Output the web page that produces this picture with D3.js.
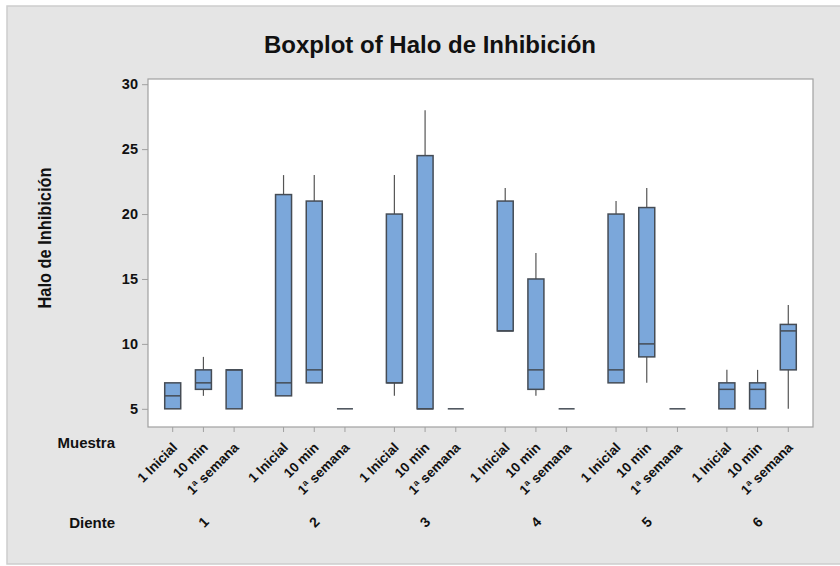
<!DOCTYPE html>
<html>
<head>
<meta charset="utf-8">
<script src="https://cdn.jsdelivr.net/npm/d3@7"></script>
<style>
  html, body { margin: 0; padding: 0; background: #ffffff; }
  svg { display: block; font-family: "Liberation Sans", Arial, sans-serif; }
</style>
</head>
<body>
<svg id="chart" width="840" height="566"></svg>
<script>
// ---- Data ----
const dientes = ["1", "2", "3", "4", "5", "6"];
const muestras = ["1 Inicial", "10 min", "1ª semana"];
const yTicks = [5, 10, 15, 20, 25, 30];
// 18 boxes, order: diente 1 (1 Inicial, 10 min, 1ª semana), diente 2 ...
const whiskerLow  = [5, 6, 5,   6, 7, 5,   6, 5, 5,   11, 6, 5,   7, 7, 5,   5, 5, 5];
const q1          = [5, 6.5, 5, 6, 7, 5,   7, 5, 5,   11, 6.5, 5, 7, 9, 5,   5, 5, 8];
const median      = [6, 7, 8,   7, 8, 5,   7, 5, 5,   11, 8, 5,   8, 10, 5,  6.5, 6.5, 11];
const q3          = [7, 8, 8,   21.5, 21, 5, 20, 24.5, 5, 21, 15, 5, 20, 20.5, 5, 7, 7, 11.5];
const whiskerHigh = [7, 9, 8,   23, 23, 5,  23, 28, 5,  22, 17, 5,  21, 22, 5,  8, 8, 13];

const boxes = [];
dientes.forEach((d, gi) => muestras.forEach((m, mi) => {
  const i = gi * muestras.length + mi;
  boxes.push({diente: d, muestra: m, lo: whiskerLow[i], q1: q1[i], med: median[i], q3: q3[i], hi: whiskerHigh[i]});
}));

// ---- Layout ----
const svg = d3.select("#chart");
const plot = {left: 148, right: 813, top: 79, bottom: 427};

svg.append("rect").attr("x", 7).attr("y", 6).attr("width", 840).attr("height", 558)
  .attr("fill", "#e5e5e5").attr("stroke", "#cdcdcd").attr("stroke-width", 1.5);

const x = d3.scaleBand().domain(dientes).range([plot.left, plot.right]).padding(0);
const xi = d3.scalePoint().domain(muestras).range([0, x.bandwidth()]).padding(0.805);
const y = d3.scaleLinear().domain([3.6, 30.4]).range([plot.bottom, plot.top]);
const cx = b => x(b.diente) + xi(b.muestra);

svg.append("rect").attr("x", plot.left).attr("y", plot.top)
  .attr("width", plot.right - plot.left).attr("height", plot.bottom - plot.top)
  .attr("fill", "#ffffff").attr("stroke", "#a0a0a0").attr("stroke-width", 1.2);

// Title
svg.append("text").attr("x", 430).attr("y", 53).attr("text-anchor", "middle")
  .attr("font-size", 23.5).attr("font-weight", "bold").attr("fill", "#111")
  .attr("textLength", 332).attr("lengthAdjust", "spacingAndGlyphs")
  .text("Boxplot of Halo de Inhibición");

// Y axis
const yAxis = svg.append("g").attr("transform", `translate(${plot.left},0)`)
  .call(d3.axisLeft(y).tickValues(yTicks).tickSize(6).tickPadding(4));
yAxis.select(".domain").remove();
yAxis.selectAll(".tick line").attr("stroke", "#a0a0a0");
yAxis.selectAll(".tick text").attr("font-size", 14.5).attr("font-weight", "bold")
  .attr("fill", "#111").attr("font-family", "Liberation Sans, Arial, sans-serif");

svg.append("text").attr("transform", "translate(51,238) rotate(-90)")
  .attr("text-anchor", "middle").attr("font-size", 17.5).attr("font-weight", "bold")
  .attr("fill", "#111").attr("textLength", 141).attr("lengthAdjust", "spacingAndGlyphs")
  .text("Halo de Inhibición");

// X ticks
const xt = svg.append("g");
xt.selectAll("line").data(boxes).join("line")
  .attr("x1", cx).attr("x2", cx).attr("y1", plot.bottom).attr("y2", plot.bottom + 5)
  .attr("stroke", "#a0a0a0");
xt.selectAll("text").data(boxes).join("text")
  .attr("transform", b => `translate(${cx(b) + 2},445) rotate(-45)`)
  .attr("text-anchor", "end").attr("dy", "0.35em")
  .attr("font-size", 13.5).attr("font-weight", "bold").attr("fill", "#111")
  .text(b => b.muestra);

svg.selectAll(".dl").data(dientes).join("text").attr("class", "dl")
  .attr("transform", d => `translate(${x(d) + x.bandwidth() / 2},522) rotate(-45)`)
  .attr("text-anchor", "middle").attr("dy", "0.35em")
  .attr("font-size", 14).attr("font-weight", "bold").attr("fill", "#111")
  .text(d => d);

svg.append("text").attr("x", 115).attr("y", 448).attr("text-anchor", "end")
  .attr("font-size", 15).attr("font-weight", "bold").attr("fill", "#111").text("Muestra");
svg.append("text").attr("x", 115).attr("y", 528).attr("text-anchor", "end")
  .attr("font-size", 15).attr("font-weight", "bold").attr("fill", "#111").text("Diente");

// Boxes
const bw = 16;
const g = svg.append("g");
const stroke = "#454c55";
g.selectAll(".wh").data(boxes).join("line").attr("class", "wh")
  .attr("x1", cx).attr("x2", cx).attr("y1", b => y(b.q3)).attr("y2", b => y(b.hi))
  .attr("stroke", "#555").attr("stroke-width", 1.2);
g.selectAll(".wl").data(boxes).join("line").attr("class", "wl")
  .attr("x1", cx).attr("x2", cx).attr("y1", b => y(b.q1)).attr("y2", b => y(b.lo))
  .attr("stroke", "#555").attr("stroke-width", 1.2);
g.selectAll(".bx").data(boxes).join("rect").attr("class", "bx")
  .attr("x", b => cx(b) - bw / 2).attr("width", bw)
  .attr("y", b => y(b.q3)).attr("height", b => Math.max(0, y(b.q1) - y(b.q3)))
  .attr("fill", "#7ba7da").attr("stroke", stroke).attr("stroke-width", 1.5);
g.selectAll(".md").data(boxes).join("line").attr("class", "md")
  .attr("x1", b => cx(b) - bw / 2).attr("x2", b => cx(b) + bw / 2)
  .attr("y1", b => y(b.med)).attr("y2", b => y(b.med))
  .attr("stroke", stroke).attr("stroke-width", 1.5);
</script>
</body>
</html>
